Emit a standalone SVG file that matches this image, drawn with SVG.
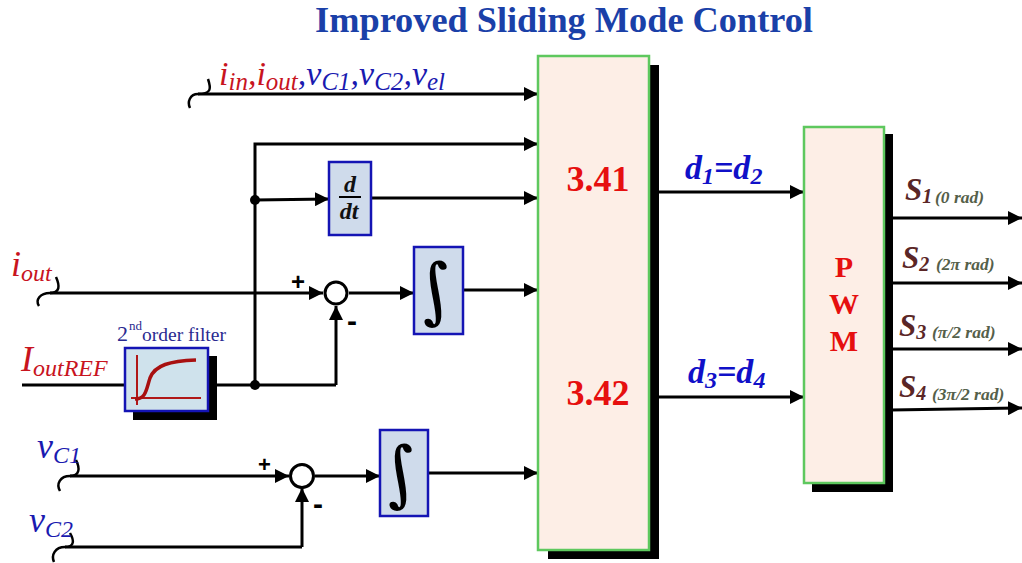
<svg xmlns="http://www.w3.org/2000/svg" width="1022" height="563" viewBox="0 0 1022 563">
<defs>
<marker id="a" markerUnits="userSpaceOnUse" markerWidth="15" markerHeight="14" refX="14" refY="7" orient="auto"><path d="M0 0L14 7L0 14Z" fill="#000"/></marker>
</defs>
<style>
text{font-family:"Liberation Serif",serif}
.l{fill:none;stroke:#000;stroke-width:3}
.t{stroke:#000;stroke-width:2.5;fill:none}
.h{stroke:#000;stroke-width:3;fill:none;marker-end:url(#a)}
.big{fill:#fdeee6;stroke:#5ec85e;stroke-width:2.5}
.bl{fill:#cfdbeb;stroke:#1414b4;stroke-width:2.5}
.r{fill:#c8141e;font-style:italic}
.b{fill:#1a1ab0;font-style:italic}
.db{fill:#1010c8;font-style:italic;font-weight:bold}
.s{fill:#5a2626;font-style:italic;font-weight:bold}
.g{fill:#55604a;font-style:italic;font-weight:bold;font-size:17.500px}
.n{fill:#e60f0f;font-weight:bold;text-anchor:middle}
.sign{font-family:"Liberation Sans",sans-serif;font-weight:bold;fill:#000}
.int{font-family:"DejaVu Serif",serif;fill:#000;text-anchor:middle}
</style>
<text x="564" y="32" text-anchor="middle" font-size="36.300" font-weight="bold" fill="#1a40a8">Improved Sliding Mode Control</text>
<g id="connectors">
<path class="h" d="M198 94H538"/>
<path class="t" d="M198 94C212 94 211 88 208 79M198 94C190 94 187 102 190 108"/>
<path class="h" d="M255 384V144H538"/>
<path class="h" d="M255 200L329 199"/>
<path class="h" d="M371 198H538"/>
<path class="h" d="M50 293H323"/>
<path class="t" d="M50 293C60 293 60 286 56 277M50 293C40 293 35 300 39 306"/>
<path class="h" d="M349 293H414"/>
<path class="h" d="M463 290H538"/>
<path class="l" d="M22 385H125M208 385H336"/>
<path class="h" d="M336 385V306"/>
<path class="h" d="M70 476H289"/>
<path class="t" d="M70 476C80 476 80 468 76 460M70 476C60 476 56 484 60 491"/>
<path class="h" d="M315 476H380"/>
<path class="h" d="M428 473H538"/>
<path class="l" d="M65 547H302"/>
<path class="t" d="M65 547C75 547 74 540 70 533M65 547C55 547 51 555 54 562"/>
<path class="h" d="M302 547V488"/>
<path class="h" d="M650 192H804"/>
<path class="h" d="M650 397H804"/>
<path class="h" d="M891 218H1022"/>
<path class="h" d="M891 283H1022"/>
<path class="h" d="M891 349H1022"/>
<path class="h" d="M891 410L1022 408"/>
<circle cx="255" cy="200" r="5"/>
<circle cx="255" cy="385" r="5"/>
</g>
<g id="main-block">
<rect x="548" y="65" width="111" height="494" fill="#000"/>
<rect class="big" x="538" y="56" width="111" height="494"/>
<text class="n" x="598" y="191" font-size="36">3.41</text>
<text class="n" x="598" y="405" font-size="36">3.42</text>
</g>
<g id="pwm">
<rect x="812" y="134" width="81" height="358" fill="#000"/>
<rect class="big" x="804" y="127" width="80" height="356"/>
<text class="n" x="844" y="277" font-size="30">P</text>
<text class="n" x="844" y="314" font-size="30">W</text>
<text class="n" x="844" y="351" font-size="30">M</text>
</g>
<g id="deriv">
<rect class="bl" x="329" y="162" width="42" height="73"/>
<text x="350" y="192" text-anchor="middle" font-size="24" font-weight="bold" font-style="italic" fill="#111">d</text>
<path d="M339 197H361" stroke="#000" stroke-width="2"/>
<text x="349" y="219" text-anchor="middle" font-size="24" font-weight="bold" font-style="italic" fill="#111">dt</text>
</g>
<g id="int1">
<rect class="bl" x="414" y="247" width="49" height="87"/>
<text class="int" font-size="72" transform="translate(440 315) skewX(12)">∫</text>
</g>
<g id="int2">
<rect class="bl" x="380" y="430" width="48" height="86"/>
<text class="int" font-size="72" transform="translate(405 498) skewX(12)">∫</text>
</g>
<g id="sum1">
<circle cx="336" cy="293" r="11" fill="#fff" stroke="#000" stroke-width="3"/>
<text class="sign" x="291" y="290" font-size="24">+</text>
<text class="sign" x="347" y="331" font-size="30">-</text>
</g>
<g id="sum2">
<circle cx="302" cy="476" r="11.500" fill="#fff" stroke="#000" stroke-width="3"/>
<text class="sign" x="258" y="472" font-size="22">+</text>
<text class="sign" x="313" y="514" font-size="30">-</text>
</g>
<g id="filter">
<rect x="133" y="356" width="84" height="64" fill="#000"/>
<rect x="125" y="348" width="83" height="63" fill="#cfe2ec" stroke="#1414b4" stroke-width="2.500"/>
<path d="M137 355V405M131 398H201" stroke="#b01818" stroke-width="2" fill="none"/>
<path d="M135 399C146 399 146 390 150 378C155 365 170 361 196 360" stroke="#a81010" stroke-width="3.500" fill="none"/>
<text x="117" y="341" font-size="22" fill="#2a2a90">2</text>
<text x="129" y="330" font-size="13" fill="#2a2a90">nd</text>
<text x="142" y="341" font-size="19.500" fill="#2a2a90">order filter</text>
</g>
<g id="labels">
<text x="219" y="85" font-size="34"><tspan class="r">i</tspan><tspan class="r" font-size="25" dy="5">in</tspan><tspan class="r" dy="-5">,i</tspan><tspan class="r" font-size="25" dy="5">out</tspan><tspan class="b" dy="-5">,v</tspan><tspan class="b" font-size="25" dy="5">C1</tspan><tspan class="b" dy="-5">,v</tspan><tspan class="b" font-size="25" dy="5">C2</tspan><tspan class="b" dy="-5">,v</tspan><tspan class="b" font-size="25" dy="5">el</tspan></text>
<text x="11" y="276" font-size="36"><tspan class="r">i</tspan><tspan class="r" font-size="24" dy="5">out</tspan></text>
<text x="21" y="371" font-size="36"><tspan class="r">I</tspan><tspan class="r" font-size="24" dy="5">outREF</tspan></text>
<text x="37" y="458" font-size="36"><tspan class="b">v</tspan><tspan class="b" font-size="24" dy="5">C1</tspan></text>
<text x="29" y="532" font-size="36"><tspan class="b">v</tspan><tspan class="b" font-size="24" dy="5">C2</tspan></text>
<text x="685" y="179" font-size="34" class="db">d<tspan font-size="24" dy="5">1</tspan><tspan dy="-5">=d</tspan><tspan font-size="24" dy="5">2</tspan></text>
<text x="688" y="383" font-size="34" class="db">d<tspan font-size="24" dy="5">3</tspan><tspan dy="-5">=d</tspan><tspan font-size="24" dy="5">4</tspan></text>
<text x="905" y="200" font-size="31" class="s">S<tspan font-size="20" dy="3">1</tspan></text><text class="g" x="935" y="203">(0 rad)</text>
<text x="902" y="268" font-size="31" class="s">S<tspan font-size="20" dy="3">2</tspan></text><text class="g" x="936" y="270">(2π rad)</text>
<text x="899" y="336" font-size="31" class="s">S<tspan font-size="20" dy="3">3</tspan></text><text class="g" x="932" y="338">(π/2 rad)</text>
<text x="899" y="397" font-size="31" class="s">S<tspan font-size="20" dy="3">4</tspan></text><text class="g" x="932" y="400">(3π/2 rad)</text>
</g>
</svg>
